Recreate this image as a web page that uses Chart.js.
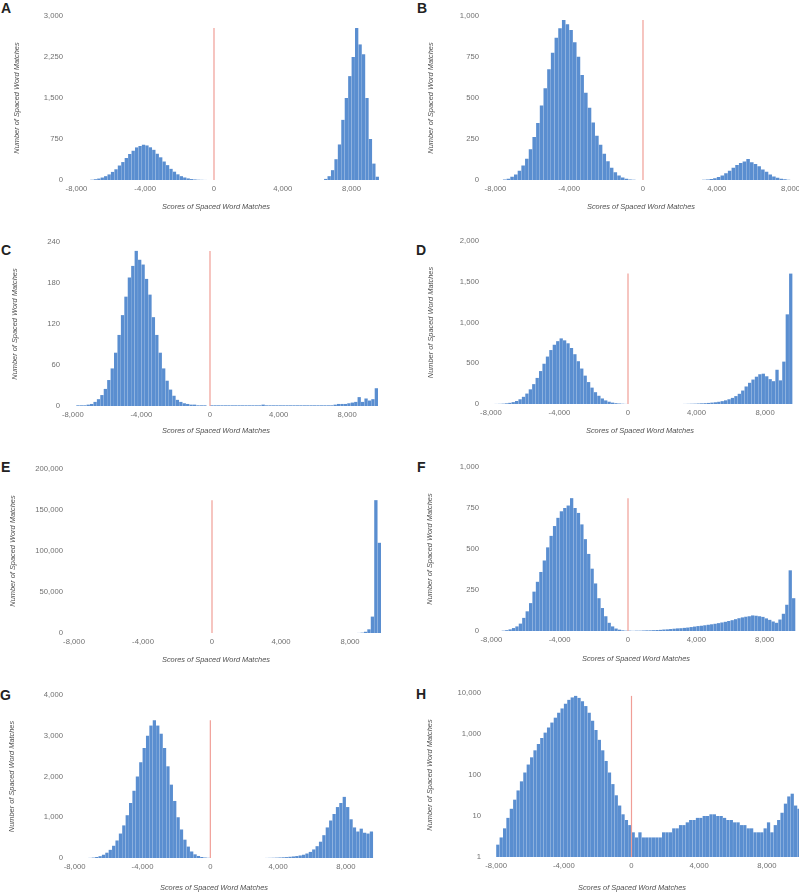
<!DOCTYPE html>
<html>
<head>
<meta charset="utf-8">
<script src="https://cdn.jsdelivr.net/npm/chart.js@4/dist/chart.umd.min.js"></script>
<style>
  body { margin: 0; width: 799px; height: 892px; overflow: hidden; background: #fff; position: relative;
         font-family: "Liberation Sans", Arial, sans-serif; }
  .letter { position: absolute; font-weight: bold; font-size: 14px; line-height: 14px; color: #222; }
</style>
</head>
<body>
<div class="letter" style="left:1px;top:1px">A</div>
<div class="letter" style="left:417px;top:1px">B</div>
<div class="letter" style="left:1px;top:243px">C</div>
<div class="letter" style="left:416px;top:243px">D</div>
<div class="letter" style="left:1px;top:460px">E</div>
<div class="letter" style="left:417px;top:460px">F</div>
<div class="letter" style="left:0px;top:688px">G</div>
<div class="letter" style="left:416px;top:687px">H</div>
<script>
// bin centres (score), 200 wide
const scores = [
  -7900, -7700, -7500, -7300, -7100, -6900, -6700, -6500, -6300, -6100,
  -5900, -5700, -5500, -5300, -5100, -4900, -4700, -4500, -4300, -4100,
  -3900, -3700, -3500, -3300, -3100, -2900, -2700, -2500, -2300, -2100,
  -1900, -1700, -1500, -1300, -1100, -900, -700, -500, -300, -100,
  100, 300, 500, 700, 900, 1100, 1300, 1500, 1700, 1900,
  2100, 2300, 2500, 2700, 2900, 3100, 3300, 3500, 3700, 3900,
  4100, 4300, 4500, 4700, 4900, 5100, 5300, 5500, 5700, 5900,
  6100, 6300, 6500, 6700, 6900, 7100, 7300, 7500, 7700, 7900,
  8100, 8300, 8500, 8700, 8900, 9100, 9300, 9500, 9700, 9900
];

const countsA = [
  0, 0, 0, 0, 5, 14, 26, 45, 70, 102,
  148, 196, 265, 328, 402, 476, 535, 596, 622, 645,
  632, 598, 552, 480, 415, 338, 272, 204, 152, 104,
  70, 46, 29, 17, 10, 5, 3, 1, 0, 0,
  0, 0, 0, 0, 0, 0, 0, 0, 0, 0,
  0, 0, 0, 0, 0, 0, 0, 0, 0, 0,
  0, 0, 0, 0, 0, 0, 0, 0, 0, 0,
  0, 0, 20, 70, 180, 380, 650, 1100, 1500, 1900,
  2250, 2780, 2480, 2300, 1500, 750, 300, 60, 0, 0
];
const countsB = [
  0, 0, 3, 8, 20, 34, 56, 88, 130, 188,
  262, 348, 455, 560, 676, 776, 868, 925, 975, 950,
  915, 840, 752, 640, 532, 440, 350, 270, 215, 160,
  115, 75, 48, 28, 15, 7, 3, 1, 0, 0,
  0, 0, 0, 0, 0, 0, 0, 0, 0, 0,
  0, 0, 0, 0, 0, 0, 2, 3, 6, 10,
  18, 28, 41, 57, 74, 91, 104, 113, 128, 108,
  97, 84, 64, 50, 33, 22, 14, 8, 4, 2,
  0, 0, 0, 0, 0, 0, 0, 0, 0, 0
];
const countsC = [
  0, 1, 1, 1, 2, 3, 6, 10, 16, 25,
  38, 55, 78, 104, 133, 160, 188, 205, 227, 214,
  207, 186, 163, 130, 104, 78, 55, 37, 24, 15,
  9, 6, 4, 3, 2, 2, 1, 1, 1, 0,
  1, 1, 1, 1, 1, 1, 1, 1, 1, 1,
  1, 1, 1, 1, 1, 2, 1, 1, 1, 1,
  1, 1, 1, 1, 1, 1, 1, 1, 1, 1,
  1, 1, 1, 1, 1, 1, 2, 3, 3, 3,
  4, 5, 6, 13, 6, 11, 8, 10, 26, 0
];
const countsD = [
  0, 1, 2, 4, 8, 14, 23, 37, 58, 88,
  128, 180, 244, 320, 404, 494, 582, 662, 727, 771,
  805, 781, 745, 687, 611, 525, 435, 348, 269, 201,
  145, 101, 68, 44, 28, 17, 10, 6, 3, 1,
  0, 0, 0, 0, 0, 0, 0, 0, 0, 0,
  0, 0, 0, 0, 0, 0, 1, 2, 3, 4,
  6, 8, 10, 13, 17, 21, 27, 35, 45, 58,
  75, 97, 125, 165, 215, 260, 300, 335, 365, 372,
  340, 305, 280, 420, 290, 520, 1100, 1600, 0, 0
];
const countsE = [
  0, 0, 0, 0, 0, 0, 0, 0, 0, 0,
  0, 0, 0, 0, 0, 0, 0, 0, 0, 0,
  0, 0, 0, 0, 0, 0, 0, 0, 0, 0,
  0, 0, 0, 0, 0, 0, 0, 0, 0, 0,
  0, 0, 0, 0, 0, 0, 0, 0, 0, 0,
  0, 0, 0, 0, 0, 0, 0, 0, 0, 0,
  0, 0, 0, 0, 0, 0, 0, 0, 0, 0,
  0, 0, 0, 0, 0, 0, 0, 0, 0, 0,
  0, 0, 100, 400, 1500, 4500, 20000, 162000, 110000, 0
];
const countsF = [
  0, 0, 0, 2, 5, 10, 18, 28, 45, 80,
  120, 170, 240, 300, 360, 430, 510, 580, 640, 690,
  730, 750, 765, 810, 750, 720, 650, 560, 470, 380,
  290, 200, 140, 90, 50, 28, 15, 8, 4, 2,
  2, 1, 2, 2, 3, 4, 4, 5, 6, 7,
  9, 10, 12, 14, 16, 17, 19, 21, 24, 27,
  30, 32, 35, 38, 41, 44, 48, 52, 56, 61,
  66, 72, 78, 83, 87, 90, 95, 93, 90, 86,
  77, 68, 58, 50, 70, 105, 160, 370, 200, 0
];
const countsG = [
  0, 0, 0, 0, 3, 10, 25, 45, 80, 130,
  200, 300, 430, 600, 800, 1050, 1350, 1650, 2000, 2350,
  2700, 3000, 3250, 3380, 3250, 3050, 2700, 2250, 1800, 1400,
  1000, 700, 450, 280, 160, 90, 50, 25, 12, 5,
  0, 0, 0, 0, 0, 0, 0, 0, 0, 0,
  0, 0, 0, 0, 0, 0, 2, 4, 6, 9,
  13, 17, 22, 30, 38, 48, 62, 80, 110, 150,
  210, 290, 400, 560, 750, 920, 1080, 1250, 1350, 1500,
  1250, 950, 750, 650, 720, 620, 600, 650, 0, 0
];
const countsH = [
  2, 3, 5, 9, 15, 25, 42, 70, 115, 180,
  270, 400, 570, 800, 1080, 1450, 1900, 2500, 3300, 4200,
  5500, 6800, 7800, 8500, 7600, 6300, 4800, 3300, 2100, 1250,
  720, 400, 220, 115, 60, 32, 18, 11, 8, 6,
  4, 3, 4, 3, 3, 3, 3, 3, 3, 4,
  4, 4, 5, 5, 6, 6, 7, 8, 8, 9,
  9, 10, 10, 11, 11, 10, 10, 9, 8, 8,
  7, 7, 6, 6, 5, 5, 4, 4, 4, 5,
  7, 4, 6, 8, 12, 20, 30, 35, 18, 15
];

const xTicks = [-8000, -4000, 0, 4000, 8000];
const yTicksA = [0, 750, 1500, 2250, 3000];
const yTicksB = [0, 250, 500, 750, 1000];
const yTicksC = [0, 60, 120, 180, 240];
const yTicksD = [0, 500, 1000, 1500, 2000];
const yTicksE = [0, 50000, 100000, 150000, 200000];
const yTicksF = [0, 250, 500, 750, 1000];
const yTicksG = [0, 1000, 2000, 3000, 4000];
const yTicksH = [1, 10, 100, 1000, 10000];

const xTitle = 'Scores of Spaced Word Matches';
const yTitle = 'Number of Spaced Word Matches';

// placement of each panel on the page
const panels = [
  { counts: countsA, yTicks: yTicksA, box: {x: 0, y: 0, w: 400, h: 220}, area: {l: 67, r: 381, t: 16, b: 180}, yTitleX: 17, xTitleY: 207, xTitleX: 216, xMin: -8551, xMax: 9715 },
  { counts: countsB, yTicks: yTicksB, box: {x: 400, y: 0, w: 420, h: 220}, area: {l: 483, r: 790.5, t: 16, b: 180}, yTitleX: 431, xTitleY: 207, xTitleX: 641, xMin: -8677, xMax: 8000 },
  { counts: countsC, yTicks: yTicksC, box: {x: 0, y: 220, w: 400, h: 220}, area: {l: 64, r: 381, t: 242, b: 406}, yTitleX: 15, xTitleY: 431, xTitleX: 216, xMin: -8513, xMax: 9971 },
  { counts: countsD, yTicks: yTicksD, box: {x: 400, y: 220, w: 420, h: 220}, area: {l: 483, r: 797, t: 241, b: 404}, yTitleX: 431, xTitleY: 431, xTitleX: 640, xMin: -8465, xMax: 9866 },
  { counts: countsE, yTicks: yTicksE, box: {x: 0, y: 440, w: 400, h: 225}, area: {l: 67, r: 381, t: 469, b: 633}, yTitleX: 13, xTitleY: 660, xTitleX: 216, xMin: -8406, xMax: 9797 },
  { counts: countsF, yTicks: yTicksF, box: {x: 400, y: 440, w: 420, h: 225}, area: {l: 483, r: 797, t: 467, b: 631}, yTitleX: 430, xTitleY: 659, xTitleX: 636, xMin: -8490, xMax: 9895 },
  { counts: countsG, yTicks: yTicksG, box: {x: 0, y: 665, w: 400, h: 230}, area: {l: 67, r: 381, t: 695, b: 858}, yTitleX: 12, xTitleY: 888, xTitleX: 214, xMin: -8453, xMax: 10065 },
  { counts: countsH, yTicks: yTicksH, box: {x: 400, y: 665, w: 420, h: 230}, area: {l: 485, r: 799, t: 693, b: 857}, yTitleX: 430, xTitleY: 888, xTitleX: 632, xMin: -8658, xMax: 9900, log: true }
];

const family = '"Liberation Sans", Arial, sans-serif';
const tickFont = { family: family, size: 7.7 };
const titleFont = { family: family, size: 7.4, style: 'italic' };
const halfTitle = titleFont.size * 1.2 / 2;
const fmt = (v) => Number(v).toLocaleString('en-US');

// x axis title drawn at its own centre (the original is not centred on the plot)
const xTitlePlugin = {
  id: 'xTitle',
  afterDraw(chart, args, opts) {
    const ctx = chart.ctx;
    ctx.save();
    ctx.font = 'italic ' + titleFont.size + 'px ' + family;
    ctx.fillStyle = '#505050';
    ctx.textAlign = 'center';
    ctx.textBaseline = 'middle';
    ctx.fillText(opts.text, opts.x, opts.y);
    ctx.restore();
  }
};

panels.forEach((p) => {
  const c = document.createElement('canvas');
  c.width = p.box.w;
  c.height = p.box.h;
  c.style.cssText = 'position:absolute;left:' + p.box.x + 'px;top:' + p.box.y + 'px;width:' + p.box.w + 'px;height:' + p.box.h + 'px';
  document.body.appendChild(c);

  const padLeft = p.yTitleX - p.box.x - halfTitle;
  const yWidth = p.area.l - p.box.x - padLeft;
  const xHeight = p.xTitleY + halfTitle - p.area.b;
  const padBottom = p.box.y + p.box.h - p.area.b - xHeight;
  const base = p.log ? 1 : 0;
  const peak = Math.max(...p.counts);

  new Chart(c, {
    type: 'bar',
    data: {
      datasets: [
        {
          // red marker at score 0
          type: 'line',
          data: [{x: 0, y: base}, {x: 0, y: peak}],
          borderColor: 'rgb(240,158,150)',
          borderWidth: 1.2,
          pointRadius: 0,
          order: 0
        },
        {
          type: 'bar',
          data: scores.map((s, i) => ({x: s, y: p.counts[i]})),
          backgroundColor: 'rgb(90,142,208)',
          barPercentage: 0.96,
          categoryPercentage: 1,
          order: 1
        }
      ]
    },
    plugins: [xTitlePlugin],
    options: {
      responsive: false,
      animation: false,
      layout: { padding: { left: padLeft, right: p.box.x + p.box.w - p.area.r, top: p.area.t - p.box.y, bottom: padBottom } },
      plugins: {
        legend: { display: false },
        tooltip: { enabled: false },
        xTitle: { text: xTitle, x: p.xTitleX - p.box.x, y: p.xTitleY - p.box.y }
      },
      scales: {
        x: {
          type: 'linear', min: p.xMin, max: p.xMax, offset: false,
          grid: { display: false, drawTicks: false }, border: { display: false },
          afterBuildTicks: (s) => { s.ticks = xTicks.map((v) => ({value: v})); },
          afterFit: (s) => { s.height = xHeight; },
          ticks: { font: tickFont, color: '#707070', padding: 4, maxRotation: 0, autoSkip: false, callback: fmt },
          title: { display: false }
        },
        y: {
          type: p.log ? 'logarithmic' : 'linear', min: base, max: p.yTicks[p.yTicks.length - 1],
          grid: { display: false, drawTicks: false }, border: { display: false },
          afterBuildTicks: (s) => { s.ticks = p.yTicks.map((v) => ({value: v})); },
          afterFit: (s) => { s.width = yWidth; },
          ticks: { font: tickFont, color: '#707070', padding: 4, autoSkip: false, callback: fmt },
          title: { display: true, text: yTitle, font: titleFont, color: '#505050', padding: 0 }
        }
      }
    }
  });
});
</script>
</body>
</html>
